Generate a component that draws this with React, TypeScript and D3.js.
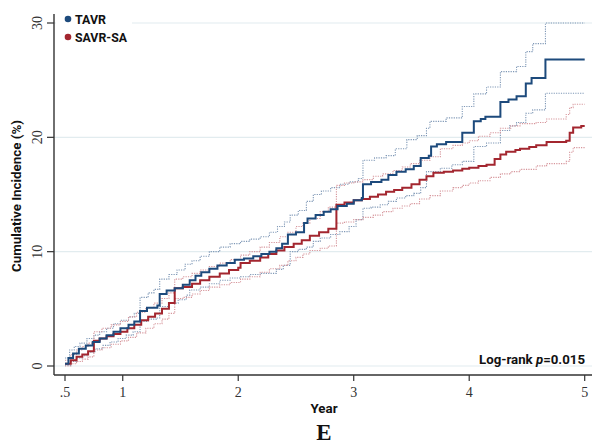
import React from "react";
import * as d3 from "d3";

// ---- Data (years, cumulative incidence %) ----
const tavrT = [0.5,0.53,0.57,0.62,0.68,0.74,0.8,0.86,0.92,0.98,1.05,1.1,1.15,1.21,1.3,1.32,1.38,1.45,1.52,1.58,1.63,1.68,1.75,1.82,1.9,1.97,2.05,2.13,2.2,2.27,2.33,2.38,2.43,2.5,2.57,2.6,2.67,2.74,2.8,2.86,2.94,3.0,3.07,3.08,3.15,3.24,3.3,3.37,3.45,3.52,3.58,3.65,3.67,3.72,3.8,3.94,4.04,4.1,4.14,4.27,4.34,4.41,4.49,4.54,4.66];
const tavrV = [0.2,0.7,1.1,1.5,1.8,2.1,2.4,2.7,3.0,3.3,3.6,3.9,4.8,5.1,5.3,6.3,6.6,6.8,7.1,7.5,7.9,8.2,8.5,8.8,9.0,9.3,9.4,9.6,9.8,10.0,10.3,10.7,11.5,11.7,12.5,12.9,13.2,13.5,13.7,14.0,14.2,14.5,14.7,15.9,16.1,16.3,16.7,17.0,17.2,17.5,18.2,18.4,19.2,19.4,19.6,20.4,21.4,21.6,21.8,23.1,23.3,23.6,24.7,25.2,26.8];

const tavrUpT = [0.5,0.54,0.58,0.63,0.69,0.75,0.8,0.86,0.92,0.98,1.05,1.1,1.15,1.22,1.27,1.32,1.4,1.47,1.54,1.6,1.67,1.75,1.84,1.93,2.02,2.1,2.19,2.27,2.34,2.4,2.45,2.52,2.59,2.65,2.72,2.8,2.88,2.96,3.04,3.08,3.18,3.28,3.36,3.46,3.55,3.63,3.66,3.8,3.94,4.04,4.15,4.27,4.41,4.49,4.55,4.66];
const tavrUpV = [0.7,1.4,1.7,2.0,2.4,2.7,3.0,3.3,3.7,4.0,4.3,4.6,6.0,6.4,6.7,7.6,8.0,8.4,8.9,9.2,9.6,10.0,10.4,10.7,10.9,11.1,11.3,11.7,12.2,12.6,13.2,13.6,14.4,15.0,15.3,15.6,15.9,16.1,16.4,18.0,18.2,18.4,19.0,19.8,20.15,20.8,21.4,21.7,22.7,23.8,24.4,25.75,26.2,27.5,28.2,30.0];

const tavrLoT = [0.5,0.55,0.6,0.65,0.7,0.76,0.83,0.89,0.96,1.03,1.09,1.15,1.22,1.29,1.32,1.4,1.48,1.55,1.58,1.67,1.75,1.84,1.93,2.02,2.1,2.19,2.33,2.39,2.45,2.52,2.59,2.65,2.71,2.8,2.88,2.96,3.02,3.08,3.15,3.23,3.3,3.37,3.45,3.52,3.58,3.63,3.75,3.85,3.94,4.04,4.15,4.27,4.35,4.41,4.49,4.55,4.66];
const tavrLoV = [0.05,0.4,0.7,0.9,1.2,1.5,1.8,2.1,2.4,2.7,3.0,3.9,4.1,4.2,5.2,5.5,5.8,6.2,6.65,6.9,7.2,7.5,7.7,7.8,8.0,8.1,8.45,8.8,10.0,10.2,10.4,10.9,11.2,11.5,11.75,12.2,12.8,13.8,13.9,14.1,14.4,14.7,14.9,15.1,15.6,17.0,17.3,17.6,17.9,19.2,19.5,20.6,21.0,21.3,22.1,22.4,23.85];

const savrT = [0.5,0.55,0.6,0.65,0.7,0.75,0.8,0.86,0.92,0.98,1.04,1.1,1.16,1.22,1.28,1.34,1.4,1.45,1.52,1.6,1.67,1.75,1.84,1.92,2.0,2.02,2.1,2.19,2.26,2.33,2.4,2.48,2.55,2.62,2.7,2.78,2.85,2.92,3.0,3.07,3.14,3.21,3.28,3.35,3.42,3.5,3.57,3.63,3.69,3.78,3.86,3.94,4.0,4.08,4.15,4.22,4.27,4.32,4.4,4.44,4.52,4.58,4.67,4.84,4.87,4.9,4.97];
const savrV = [0.2,0.5,0.8,1.0,1.3,2.2,2.4,2.6,2.8,3.0,3.3,3.6,4.0,4.3,4.6,5.0,5.5,6.8,6.9,7.2,7.5,7.8,8.1,8.4,8.6,9.0,9.2,9.5,9.8,10.1,10.4,10.7,11.0,11.4,11.7,12.0,14.1,14.3,14.5,14.6,14.8,15.0,15.25,15.4,15.6,15.9,16.3,16.6,16.9,17.0,17.1,17.25,17.35,17.5,17.6,18.1,18.5,18.75,18.9,19.0,19.15,19.3,19.6,19.7,20.4,20.85,21.0];

const savrUpT = [0.5,0.55,0.6,0.65,0.7,0.75,0.82,0.9,0.98,1.05,1.12,1.2,1.27,1.34,1.4,1.45,1.52,1.6,1.67,1.75,1.84,1.93,2.02,2.1,2.19,2.27,2.36,2.43,2.5,2.56,2.62,2.71,2.78,2.85,2.92,3.0,3.08,3.17,3.25,3.34,3.42,3.49,3.57,3.66,3.75,3.86,3.94,4.0,4.08,4.18,4.27,4.36,4.44,4.58,4.67,4.84,4.87,4.9];
const savrUpV = [0.5,1.0,1.4,1.7,2.0,3.0,3.3,3.6,3.9,4.3,4.7,5.1,5.5,5.9,6.4,7.6,7.8,8.1,8.4,8.7,9.0,9.3,9.7,10.0,10.4,10.8,11.3,11.7,12.2,12.5,12.9,13.5,13.9,15.8,16.0,16.1,16.3,16.6,16.8,17.1,17.4,17.7,18.0,18.3,19.0,19.3,19.5,19.7,20.1,20.4,20.8,21.0,21.2,21.3,21.6,22.0,22.6,22.9];

const savrLoT = [0.5,0.55,0.6,0.65,0.7,0.75,0.82,0.9,0.98,1.05,1.12,1.2,1.27,1.34,1.4,1.45,1.52,1.6,1.67,1.75,1.84,1.93,2.02,2.1,2.19,2.27,2.36,2.43,2.5,2.56,2.62,2.71,2.78,2.85,2.92,3.0,3.08,3.17,3.25,3.34,3.42,3.49,3.57,3.66,3.75,3.86,3.94,4.0,4.08,4.18,4.27,4.36,4.44,4.58,4.67,4.84,4.87,4.9];
const savrLoV = [0.0,0.2,0.4,0.6,0.8,1.4,1.6,1.9,2.2,2.5,2.9,3.3,3.7,4.1,4.6,5.9,6.0,6.3,6.6,6.9,7.1,7.3,7.6,7.8,8.2,8.5,8.8,9.2,9.5,9.8,10.1,10.3,10.5,12.5,12.6,12.8,13.0,13.2,13.5,13.8,14.0,14.2,14.6,14.9,15.3,15.6,15.8,16.0,16.2,16.5,16.8,17.0,17.2,17.5,17.7,17.9,18.7,19.1];

const xTicks = [0.5, 1, 2, 3, 4, 5];
const xTickLabels = [".5", "1", "2", "3", "4", "5"];
const yTicks = [0, 10, 20, 30];
const seriesNames = ["TAVR", "SAVR-SA"];
const END_T = 5;

const BLUE = "#1d4a7c";
const RED = "#a3262f";
const BLUE_CI = "#7f98b6";
const RED_CI = "#d6959b";

export default function App() {
  const W = 592, H = 445;
  const x = d3.scaleLinear().domain([0.5, 5]).range([65, 584.7]);
  const y = d3.scaleLinear().domain([0, 30]).range([366, 23]);
  const axisX = 54, axisY = 375;

  const mk = (ts: number[], vs: number[]) => {
    const pts: [number, number][] = ts.map((t, i) => [t, vs[i]]);
    pts.push([END_T, vs[vs.length - 1]]);
    return d3.line<[number, number]>().x(d => x(d[0])).y(d => y(d[1])).curve(d3.curveStepAfter)(pts) || "";
  };

  const sans = "Roboto, 'Open Sans', sans-serif";
  const serif = "'Liberation Serif', 'DejaVu Serif', serif";

  return (
    <svg width={W} height={H} style={{ position: "absolute", left: 0, top: 0, background: "#fff" }}>
      <rect x={0} y={0} width={W} height={H} fill="#fff" />
      {/* grid */}
      {yTicks.map(v => (
        <line key={"g" + v} x1={axisX} x2={W} y1={y(v)} y2={y(v)} stroke="#e2ecef" strokeWidth={1.2} />
      ))}
      {/* CIs */}
      <path d={mk(tavrUpT, tavrUpV)} fill="none" stroke={BLUE_CI} strokeWidth={1.1} strokeDasharray="1.2,1.2" />
      <path d={mk(tavrLoT, tavrLoV)} fill="none" stroke={BLUE_CI} strokeWidth={1.1} strokeDasharray="1.2,1.2" />
      <path d={mk(savrUpT, savrUpV)} fill="none" stroke={RED_CI} strokeWidth={1.1} strokeDasharray="1.2,1.2" />
      <path d={mk(savrLoT, savrLoV)} fill="none" stroke={RED_CI} strokeWidth={1.1} strokeDasharray="1.2,1.2" />
      {/* mains */}
      <path d={mk(savrT, savrV)} fill="none" stroke={RED} strokeWidth={2} />
      <path d={mk(tavrT, tavrV)} fill="none" stroke={BLUE} strokeWidth={2} />
      {/* axes */}
      <line x1={axisX} x2={axisX} y1={14} y2={axisY} stroke="#333" strokeWidth={1.4} />
      <line x1={axisX} x2={W} y1={axisY} y2={axisY} stroke="#333" strokeWidth={1.4} />
      {yTicks.map(v => (
        <g key={"yt" + v}>
          <line x1={47} x2={axisX} y1={y(v)} y2={y(v)} stroke="#333" strokeWidth={1.2} />
          <text transform={`translate(42,${y(v)}) rotate(-90)`} textAnchor="middle" fontFamily={serif} fontSize={14} fill="#333">{v}</text>
        </g>
      ))}
      {xTicks.map((t, i) => (
        <g key={"xt" + t}>
          <line x1={x(t)} x2={x(t)} y1={axisY} y2={axisY + 6} stroke="#333" strokeWidth={1.2} />
          <text x={x(t)} y={397} textAnchor="middle" fontFamily={serif} fontSize={14} fill="#333">{xTickLabels[i]}</text>
        </g>
      ))}
      {/* axis titles */}
      <text transform={`translate(21,196) rotate(-90)`} textAnchor="middle" fontFamily={sans} fontWeight="bold" fontSize={13} fill="#111" textLength={152} lengthAdjust="spacingAndGlyphs">Cumulative Incidence (%)</text>
      <text x={324} y={413} textAnchor="middle" fontFamily={sans} fontWeight="bold" fontSize={13} fill="#111" textLength={27} lengthAdjust="spacingAndGlyphs">Year</text>
      <text x={324} y={440} textAnchor="middle" fontFamily={serif} fontWeight="bold" fontSize={23} fill="#111">E</text>
      {/* legend */}
      <rect x={56} y={8} width={76} height={40} fill="#fff" />
      {seriesNames.map((n, i) => (
        <g key={n}>
          <circle cx={68} cy={19 + i * 18} r={3.3} fill={i === 0 ? BLUE : RED} />
          <text x={75} y={24 + i * 18} fontFamily={sans} fontWeight="bold" fontSize={13.5} fill="#111" textLength={i === 0 ? 31 : 52} lengthAdjust="spacingAndGlyphs">{n}</text>
        </g>
      ))}
      {/* log-rank */}
      <text x={585} y={364} textAnchor="end" fontFamily={sans} fontWeight="bold" fontSize={13} fill="#111" textLength={106} lengthAdjust="spacingAndGlyphs">
        Log-rank <tspan fontStyle="italic">p</tspan>=0.015
      </text>
    </svg>
  );
}
